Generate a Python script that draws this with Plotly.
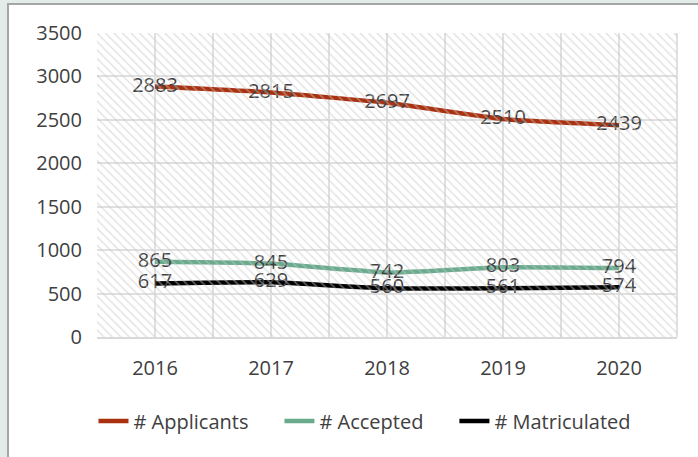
import plotly.graph_objects as go

years = ["2016", "2017", "2018", "2019", "2020"]
applicants = [2883, 2815, 2697, 2510, 2439]
accepted = [865, 845, 742, 803, 794]
matriculated = [617, 629, 560, 561, 574]
y_ticks = [0, 500, 1000, 1500, 2000, 2500, 3000, 3500]

W, H = 698, 457
L, R, T, B = 97, 21, 33, 120
pw, ph = W - L - R, H - T - B

FONT = "Open Sans, Noto Sans, sans-serif"
TXT = "#404040"
BG = "#e3ece9"
GRID = "#e0e0e0"
PAD = "\u00a0" * 5

fig = go.Figure()

# hatched plot-area background on hidden overlay axes
fig.add_trace(go.Scatter(
    x=[0, 1, 1, 0, 0], y=[0, 0, 1, 1, 0], xaxis="x2", yaxis="y2",
    mode="none", fill="toself", fillcolor="rgba(0,0,0,0)",
    fillpattern=dict(shape="\\", fgcolor="#c8c8c8", bgcolor="rgba(0,0,0,0)", size=6, solidity=0.25),
    showlegend=False, hoverinfo="skip"))

series = [
    ("# Applicants" + PAD, applicants, "#a9310f"),
    ("# Accepted" + PAD, accepted, "#6aab8e"),
    ("# Matriculated", matriculated, "#000000"),
]
for name, vals, col in series:
    fig.add_trace(go.Scatter(
        x=years, y=vals, name=name, mode="lines+text",
        line=dict(color=col, width=4.5, shape="spline", smoothing=0.4),
        text=[str(v) for v in vals], textposition="middle center",
        textfont=dict(family=FONT, size=20, color=TXT),
        cliponaxis=False))

grid_shapes = [
    dict(type="line", xref="paper", yref="paper", layer="below",
         x0=k / 10, x1=k / 10, y0=0, y1=1, line=dict(color=GRID, width=2))
    for k in range(1, 11)
]

fig.update_layout(
    width=W, height=H,
    margin=dict(l=L, r=R, t=T, b=B),
    paper_bgcolor=BG,
    plot_bgcolor="white",
    font=dict(family=FONT, size=20, color=TXT),
    xaxis=dict(type="category", range=[-0.5, 4.5], showgrid=False,
               showline=True, linecolor="#d9d9d9", linewidth=2,
               ticks="", tickfont=dict(size=20, color=TXT), ticklabelstandoff=12),
    yaxis=dict(range=[0, 3500], tickvals=y_ticks, showgrid=True,
               gridcolor=GRID, gridwidth=2, zeroline=False,
               ticks="", tickfont=dict(size=20, color=TXT), ticklabelstandoff=14),
    xaxis2=dict(range=[0, 1], overlaying="x", visible=False, fixedrange=True),
    yaxis2=dict(range=[0, 1], overlaying="y", visible=False, fixedrange=True),
    legend=dict(orientation="h", x=(365 - L) / pw, xanchor="center", y=-(421 - 337) / ph,
                yanchor="middle", font=dict(size=20, color=TXT),
                bgcolor="rgba(0,0,0,0)", itemwidth=30),
    showlegend=True,
    shapes=[
        dict(type="rect", xref="paper", yref="paper", layer="below",
             x0=(8 - L) / pw, x1=(W + 10 - L) / pw,
             y0=-(H + 10 - T - ph) / ph - 0.1, y1=1 + (T - 4) / ph,
             fillcolor="white", line=dict(color="#a6a6a6", width=2)),
    ] + grid_shapes,
)

fig.write_html(
    "out.html",
    config={"displayModeBar": False},
    post_script="document.body.style.margin='0';document.body.style.background='" + BG + "';",
)
